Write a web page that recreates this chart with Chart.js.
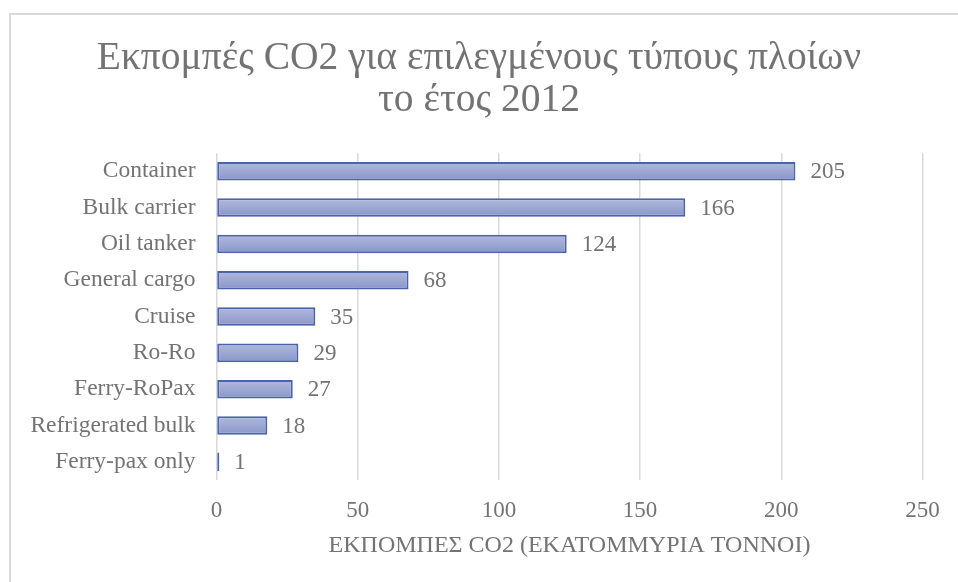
<!DOCTYPE html>
<html>
<head>
<meta charset="utf-8">
<script src="https://cdn.jsdelivr.net/npm/chart.js@4"></script>
<style>
  html, body { margin: 0; padding: 0; background: #fff; overflow: hidden; }
  #wrap { position: relative; width: 958px; height: 582px; }
  #frame {
    position: absolute; left: 9px; top: 13px; width: 1000px; height: 600px;
    border-top: 2px solid #d9d9d9; border-left: 2px solid #d9d9d9;
    pointer-events: none;
  }
</style>
</head>
<body>
<div id="wrap">
  <canvas id="chart" width="958" height="582"></canvas>
  <div id="frame"></div>
</div>
<script>
// ship types, top to bottom
const shipTypes = [
  "Container", "Bulk carrier", "Oil tanker", "General cargo", "Cruise",
  "Ro-Ro", "Ferry-RoPax", "Refrigerated bulk", "Ferry-pax only"
];
// CO2 emissions, million tonnes
const emissions = [205, 166, 124, 68, 35, 29, 27, 18, 1];
const xTicks = [0, 50, 100, 150, 200, 250];

const textGray = "#737373";
const serif = "'Liberation Serif', 'Times New Roman', serif";

// vertical gradient per bar, based on its category slot
function barFill(ctx) {
  const chart = ctx.chart;
  const y = chart.scales.y;
  if (!chart.chartArea || !y) return "#9ea8d3";
  const mid = y.getPixelForValue(ctx.dataIndex);
  const half = (chart.chartArea.height / shipTypes.length) * 0.51 / 2;
  const g = chart.ctx.createLinearGradient(0, mid - half, 0, mid + half);
  g.addColorStop(0, "#b1badd");
  g.addColorStop(1, "#8995c8");
  return g;
}

// value next to the end of each bar
const valueLabels = {
  id: "valueLabels",
  afterDatasetsDraw(chart) {
    const c = chart.ctx;
    const meta = chart.getDatasetMeta(0);
    c.save();
    c.font = "23px " + serif;
    c.fillStyle = textGray;
    c.textAlign = "left";
    c.textBaseline = "middle";
    meta.data.forEach((bar, i) => {
      c.fillText(String(emissions[i]), bar.x + 15, bar.y + 1);
    });
    c.restore();
  }
};

new Chart(document.getElementById("chart"), {
  type: "bar",
  data: {
    labels: shipTypes,
    datasets: [{
      data: emissions,
      backgroundColor: barFill,
      borderColor: "#4a63ad",
      borderWidth: 2,
      borderSkipped: false,
      categoryPercentage: 1,
      barPercentage: 0.51
    }]
  },
  options: {
    indexAxis: "y",
    responsive: false,
    animation: false,
    // symmetric side padding keeps the title centred on the canvas
    layout: { padding: { left: 23, right: 23, top: 0, bottom: 22 } },
    plugins: {
      legend: { display: false },
      tooltip: { enabled: false },
      title: {
        display: true,
        text: ["Εκπομπές CO2 για επιλεγμένους τύπους πλοίων", "το έτος 2012"],
        color: textGray,
        font: { family: serif, size: 39.5, weight: "normal", lineHeight: 1.065 },
        padding: { top: 38, bottom: 31 }
      }
    },
    scales: {
      x: {
        min: 0,
        max: 250,
        afterBuildTicks: (axis) => { axis.ticks = xTicks.map(v => ({ value: v })); },
        afterFit: (axis) => { axis.height = 80; },
        grid: { color: "#d9d9d9", lineWidth: 1.5, drawTicks: false },
        border: { display: false },
        ticks: {
          color: textGray,
          font: { family: serif, size: 23 },
          padding: 17
        },
        title: {
          display: true,
          text: "ΕΚΠΟΜΠΕΣ CO2 (ΕΚΑΤΟΜΜΥΡΙΑ ΤΟΝΝΟΙ)",
          color: textGray,
          font: { family: serif, size: 24 },
          padding: { top: 4, bottom: 0 }
        }
      },
      y: {
        afterFit: (axis) => { axis.width = 193.5; },
        grid: { display: false, drawTicks: false },
        border: { display: false },
        ticks: {
          color: textGray,
          font: { family: serif, size: 23.5 },
          padding: 21
        }
      },
      // empty right-hand axis, only reserves the margin right of the plot
      yRight: {
        position: "right",
        afterFit: (axis) => { axis.width = 12.5; },
        grid: { display: false, drawTicks: false },
        border: { display: false },
        ticks: { display: false }
      }
    }
  },
  plugins: [valueLabels]
});
</script>
</body>
</html>
